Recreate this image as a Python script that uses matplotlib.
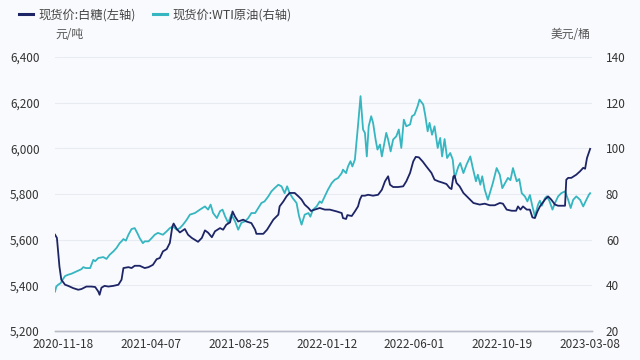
import matplotlib
matplotlib.use("Agg")
import matplotlib.pyplot as plt
import pandas as pd
from matplotlib.lines import Line2D

plt.rcParams['font.family'] = ['Noto Sans CJK SC', 'DejaVu Sans']

base_date = "2020-11-18"

sugar_days = [-13, -10, -6, -3, 3, 8, 16, 24, 29, 37, 45, 51, 56, 58, 61, 66, 72, 80, 88, 93,
              96, 104, 109, 114, 122, 130, 136, 143, 149, 154, 159, 165, 170, 174, 176, 181, 186,
              194, 199, 205, 215, 221, 226, 231, 237, 242, 250, 255, 260, 266, 270, 274, 279, 287,
              292, 300, 306, 308, 319, 325, 330, 335, 343, 345, 351, 356, 361, 369, 375, 380, 385,
              391, 395, 401, 409, 417, 425, 436, 444, 446, 451, 453, 460, 465, 470, 473, 476, 481,
              486, 494, 502, 508, 513, 518, 521, 526, 534, 542, 547, 553, 558, 562, 567, 573, 579,
              587, 592, 598, 606, 611, 616, 619, 622, 624, 627, 632, 638, 646, 654, 664, 672, 680,
              688, 696, 701, 707, 715, 722, 725, 729, 733, 739, 744, 748, 752, 756, 760, 768, 773,
              778, 784, 789, 800, 802, 805, 810, 818, 824, 829, 832, 835, 840]
sugar_vals = [5621, 5607, 5482, 5424, 5402, 5397, 5387, 5380, 5383, 5394, 5394, 5392, 5372, 5358,
              5389, 5397, 5394, 5397, 5402, 5424, 5475, 5479, 5475, 5485, 5485, 5475, 5479, 5489,
              5514, 5519, 5548, 5558, 5585, 5657, 5670, 5646, 5631, 5646, 5621, 5607, 5590, 5607,
              5640, 5630, 5610, 5636, 5650, 5643, 5665, 5675, 5723, 5700, 5679, 5687, 5679, 5672,
              5643, 5625, 5625, 5643, 5665, 5687, 5709, 5745, 5767, 5789, 5804, 5804, 5789, 5775,
              5753, 5738, 5725, 5731, 5738, 5731, 5731, 5723, 5716, 5694, 5690, 5707, 5703, 5723,
              5745, 5775, 5792, 5792, 5796, 5792, 5796, 5818, 5855, 5877, 5840, 5830, 5830, 5833,
              5855, 5892, 5942, 5962, 5960, 5942, 5920, 5892, 5862, 5855, 5848, 5843, 5826, 5821,
              5876, 5880, 5848, 5833, 5804, 5782, 5760, 5753, 5757, 5750, 5750, 5760, 5757, 5731,
              5726, 5726, 5745, 5731, 5745, 5731, 5731, 5697, 5694, 5723, 5745, 5775, 5789, 5775,
              5753, 5748, 5748, 5862, 5870, 5870, 5884, 5899, 5914, 5910, 5957, 5997]

oil_days = [-13, -11, -8, -4, -1, 3, 8, 13, 21, 29, 32, 36, 43, 48, 51, 56, 64, 69, 74, 80, 85,
            90, 93, 96, 100, 104, 109, 114, 118, 122, 127, 130, 136, 141, 146, 151, 159, 165, 170,
            175, 181, 186, 191, 197, 202, 210, 218, 226, 231, 235, 239, 245, 250, 254, 258, 263,
            268, 274, 279, 284, 290, 295, 300, 306, 311, 316, 321, 327, 332, 337, 343, 348, 353,
            357, 361, 366, 372, 376, 380, 385, 391, 394, 398, 404, 409, 412, 417, 422, 428, 433,
            438, 444, 446, 451, 454, 458, 461, 465, 470, 474, 478, 481, 484, 487, 491, 494, 498,
            501, 505, 508, 513, 515, 518, 522, 526, 531, 535, 539, 543, 547, 553, 556, 560, 565,
            568, 574, 577, 581, 584, 588, 592, 597, 601, 604, 608, 612, 617, 621, 624, 630, 633,
            638, 643, 649, 653, 658, 661, 665, 668, 672, 677, 681, 685, 691, 696, 700, 706, 709,
            713, 717, 723, 727, 731, 736, 740, 744, 748, 752, 757, 760, 763, 768, 771, 775, 780,
            784, 789, 794, 800, 805, 809, 813, 818, 824, 829, 834, 838, 840]
oil_vals = [37.2, 39.4, 40.2, 40.9, 42.4, 44.0, 44.6, 45.0, 46.0, 47.0, 47.9, 47.5, 47.5, 51.1,
            50.5, 51.9, 52.3, 51.5, 53.3, 54.8, 56.3, 58.4, 59.2, 60.2, 59.5, 62.1, 64.6, 65.0,
            62.9, 60.6, 58.4, 59.2, 59.2, 60.6, 62.1, 62.9, 62.1, 63.6, 65.0, 65.7, 64.3, 65.0,
            66.5, 68.7, 70.9, 71.6, 73.1, 74.5, 73.1, 75.3, 71.6, 69.4, 72.4, 73.1, 70.2, 67.3,
            70.9, 68.0, 64.3, 67.3, 68.0, 69.4, 71.6, 71.6, 73.8, 76.0, 76.7, 78.9, 81.1, 82.5,
            84.0, 83.3, 80.3, 83.3, 80.3, 78.1, 76.0, 70.2, 66.5, 70.9, 71.6, 70.0, 73.0, 74.5,
            76.7, 76.0, 78.9, 81.8, 84.7, 86.2, 86.9, 89.1, 90.6, 89.1, 92.0, 94.3, 92.0, 95.0,
            110.0, 122.8, 108.2, 106.7, 96.4, 109.6, 114.0, 111.1, 103.8, 99.4, 101.6, 96.4,
            103.8, 106.7, 103.8, 98.6, 103.8, 105.2, 108.2, 100.1, 112.5, 109.6, 110.4, 114.0,
            114.7, 118.4, 121.3, 119.1, 114.7, 107.4, 111.1, 105.9, 109.6, 100.1, 104.5, 96.4,
            104.0, 95.7, 97.9, 95.0, 86.9, 92.0, 93.5, 89.1, 92.8, 96.4, 91.3, 85.5, 88.4, 84.0,
            87.7, 81.8, 77.4, 81.1, 84.8, 91.3, 88.4, 82.5, 85.5, 87.0, 86.0, 91.3, 85.5, 86.5,
            80.3, 78.9, 76.7, 79.5, 74.5, 70.2, 75.3, 77.0, 74.8, 78.1, 78.9, 77.0, 73.1, 76.0,
            78.9, 80.3, 81.1, 77.4, 73.8, 77.4, 78.9, 77.4, 74.5, 77.4, 79.6, 80.3]

tick_labels = ["2020-11-18", "2021-04-07", "2021-08-25", "2022-01-12",
               "2022-06-01", "2022-10-19", "2023-03-08"]
left_ticks = [5200, 5400, 5600, 5800, 6000, 6200, 6400]
right_ticks = [20, 40, 60, 80, 100, 120, 140]

sugar_name = "现货价:白糖(左轴)"
oil_name = "现货价:WTI原油(右轴)"
left_unit = "元/吨"
right_unit = "美元/桶"

sugar_color = "#1d2566"
oil_color = "#35b6c1"
bg = "#f9fafd"
txt = "#333333"

base = pd.Timestamp(base_date)
sugar_x = base + pd.to_timedelta(sugar_days, unit="D")
oil_x = base + pd.to_timedelta(oil_days, unit="D")

fig = plt.figure(figsize=(6.4, 3.6), dpi=100, facecolor=bg)
ax = fig.add_axes([0.086, 0.081, 0.839, 0.761], facecolor=bg)
ax2 = ax.twinx()

ax.plot(sugar_x, sugar_vals, color=sugar_color, lw=1.3, zorder=3)
ax2.plot(oil_x, oil_vals, color=oil_color, lw=1.3, zorder=2)

ax.set_zorder(ax2.get_zorder() + 1)
ax.patch.set_visible(False)
ax2.patch.set_visible(True)
ax2.patch.set_facecolor(bg)

ax.set_ylim(5200, 6400)
ax2.set_ylim(20, 140)
ax.set_yticks(left_ticks)
ax.set_yticklabels([f"{v:,}" for v in left_ticks])
ax2.set_yticks(right_ticks)
ax2.set_yticklabels([str(v) for v in right_ticks])

ax.set_xlim(base + pd.Timedelta(days=-13), base + pd.Timedelta(days=843))
xt = pd.to_datetime(tick_labels)
ax.set_xticks(xt)
ax.set_xticklabels(tick_labels)

for a in (ax, ax2):
    for s in ("top", "left", "right"):
        a.spines[s].set_visible(False)
    a.spines["bottom"].set_color("#b8bcc8")
    a.spines["bottom"].set_linewidth(1.0)
    a.tick_params(length=0, colors=txt, labelsize=8.5)
ax.tick_params(axis="y", pad=11)
ax2.tick_params(axis="y", pad=10)
ax.tick_params(axis="x", pad=5)

ax2.grid(axis="y", color="#e9ebf2", lw=0.8)
ax2.set_axisbelow(True)

fig.text(0.086, 0.903, left_unit, fontsize=8.5, color="#555555", ha="left", va="center")
fig.text(0.922, 0.903, right_unit, fontsize=8.5, color="#555555", ha="right", va="center")

handles = [Line2D([0], [0], color=sugar_color, lw=2.2), Line2D([0], [0], color=oil_color, lw=2.2)]
fig.legend(handles, [sugar_name, oil_name], loc="center left", bbox_to_anchor=(0.012, 0.958),
           ncol=2, frameon=False, fontsize=8.8, handlelength=1.2, handletextpad=0.4,
           columnspacing=1.4, labelcolor="#444444")

fig.savefig("out.png", dpi=100, facecolor=bg)
